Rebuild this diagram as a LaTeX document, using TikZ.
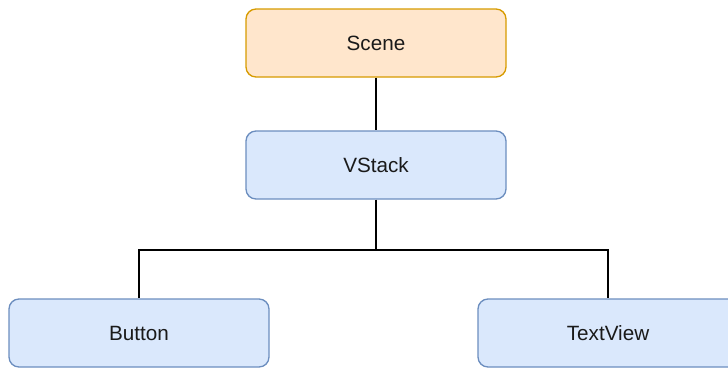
\documentclass[tikz,border=0pt]{standalone}
\usepackage{fontspec}
\setmainfont{Liberation Sans}
\definecolor{orangefill}{HTML}{FFE6CC}
\definecolor{orangeline}{HTML}{D79B00}
\definecolor{bluefill}{HTML}{DAE8FC}
\definecolor{blueline}{HTML}{6C8EBF}
\definecolor{labeltext}{HTML}{1A1A1A}
\begin{document}
\begin{tikzpicture}[x=0.75pt,y=-0.75pt,
  box/.style={rounded corners=7.5pt, line width=1pt, minimum width=195pt,
    minimum height=51pt, inner sep=0pt, text=labeltext,
    font=\fontsize{15.5}{18}\selectfont},
  orangebox/.style={box, fill=orangefill, draw=orangeline},
  bluebox/.style={box, fill=bluefill, draw=blueline},
  link/.style={line width=1.1pt, black}]
  \useasboundingbox (0,0) rectangle (728,369);
  \begin{scope}
    \clip (0,0) rectangle (728,369);
    \node[orangebox] (scene) at (376,43) {Scene};
    \node[bluebox] (vstack) at (376,165) {VStack};
    \node[bluebox] (button) at (139,333) {Button};
    \node[bluebox] (textview) at (608,333) {TextView};
    \coordinate (split) at (376,250);
    \draw[link] (scene.south) -- (vstack.north);
    \draw[link] (vstack.south) -- (split);
    \draw[link] (split) -| (button.north);
    \draw[link] (split) -| (textview.north);
  \end{scope}
\end{tikzpicture}
\end{document}
